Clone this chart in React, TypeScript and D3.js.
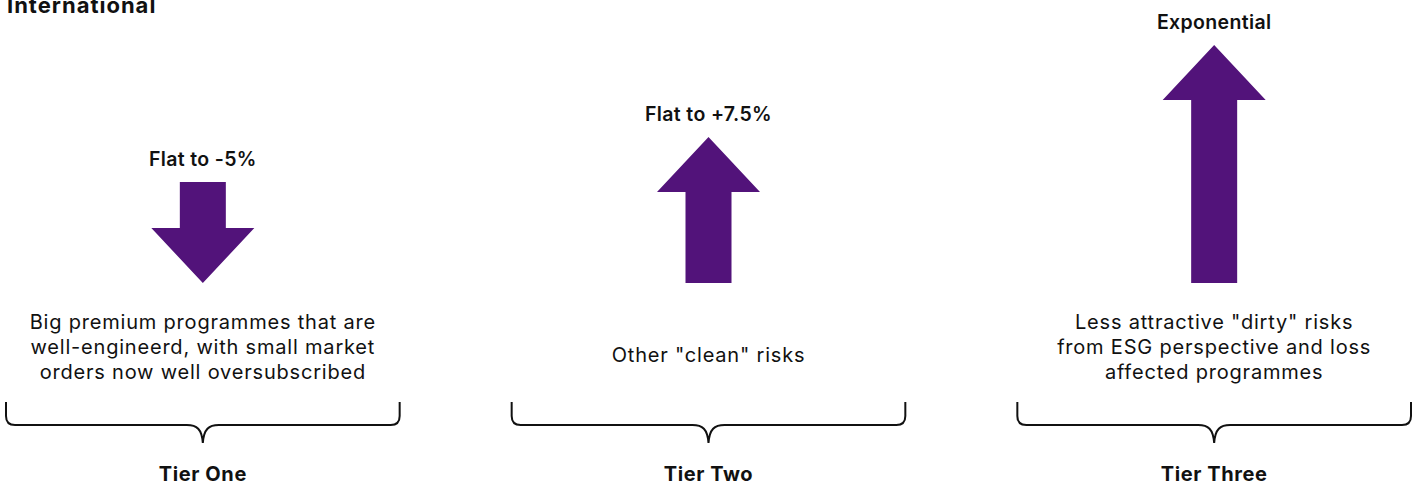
import React from "react";
import * as d3 from "d3";

const W = 1422;
const H = 489;

const tiers = ["Tier One", "Tier Two", "Tier Three"];
const changeLabels = ["Flat to -5%", "Flat to +7.5%", "Exponential"];
const directions = ["down", "up", "up"];
// arrow length (px-equivalent units)
const arrowLengths = [101, 146, 238];
const descriptions = [
  ["Big premium programmes that are", "well-engineerd, with small market", "orders now well oversubscribed"],
  ["Other \"clean\" risks"],
  ["Less attractive \"dirty\" risks", "from ESG perspective and loss", "affected programmes"],
];
const title = "International";

const PURPLE = "#52137a";
const FONT = "Inter, 'Noto Sans', sans-serif";

export default function App() {
  const x = d3.scaleBand<string>().domain(tiers).range([6, 1411]).paddingInner(0.2215).paddingOuter(0);
  const y = d3.scaleLinear().domain([0, 240]).range([283, 43]);

  const headH = 55;
  const headW = 103;
  const shaftW = 46;

  const arrowPath = (cx: number, len: number, dir: string) => {
    const base = y(0);
    const top = y(len);
    if (dir === "up") {
      const hb = top + headH;
      return `M${cx - shaftW / 2},${base} L${cx - shaftW / 2},${hb} L${cx - headW / 2},${hb} L${cx},${top} L${cx + headW / 2},${hb} L${cx + shaftW / 2},${hb} L${cx + shaftW / 2},${base} Z`;
    }
    const hb = base - headH;
    return `M${cx - shaftW / 2},${top} L${cx - shaftW / 2},${hb} L${cx - headW / 2},${hb} L${cx},${base} L${cx + headW / 2},${hb} L${cx + shaftW / 2},${hb} L${cx + shaftW / 2},${top} Z`;
  };

  const bracePath = (x0: number, x1: number) => {
    const cx = (x0 + x1) / 2;
    const yt = 402;
    const yh = 425;
    const yTip = 443;
    const r = 9;
    return [
      `M${x0},${yt}`,
      `L${x0},${yh - r}`,
      `Q${x0},${yh} ${x0 + r},${yh}`,
      `L${cx - 16},${yh}`,
      `C${cx - 6},${yh} ${cx - 1},${yh + 4} ${cx},${yTip}`,
      `C${cx + 1},${yh + 4} ${cx + 6},${yh} ${cx + 16},${yh}`,
      `L${x1 - r},${yh}`,
      `Q${x1},${yh} ${x1},${yh - r}`,
      `L${x1},${yt}`,
    ].join(" ");
  };

  return (
    <svg
      width={W}
      height={H}
      viewBox={`0 0 ${W} ${H}`}
      style={{ position: "absolute", left: 0, top: 0, background: "#fff" }}
      fontFamily={FONT}
    >
      <text x={7} y={13} fontSize={22} fontWeight={700} letterSpacing={1} fill="#111">
        {title}
      </text>
      {tiers.map((t, i) => {
        const x0 = x(t)!;
        const x1 = x0 + x.bandwidth();
        const cx = (x0 + x1) / 2;
        const len = arrowLengths[i];
        const top = y(len);
        const descBase = descriptions[i].length === 1 ? 362 : 329;
        return (
          <g key={t}>
            <text x={cx} y={top - 16} textAnchor="middle" fontSize={19.5} fontWeight={600} letterSpacing={0.35} fill="#111">
              {changeLabels[i]}
            </text>
            <path d={arrowPath(cx, len, directions[i])} fill={PURPLE} />
            {descriptions[i].map((line, j) => (
              <text key={j} x={cx} y={descBase + j * 25} textAnchor="middle" fontSize={20} letterSpacing={0.8} fill="#111">
                {line}
              </text>
            ))}
            <path d={bracePath(x0, x1)} fill="none" stroke="#111" strokeWidth={2} />
            <text x={cx} y={481} textAnchor="middle" fontSize={20} fontWeight={700} letterSpacing={0.6} fill="#111">
              {t}
            </text>
          </g>
        );
      })}
    </svg>
  );
}
